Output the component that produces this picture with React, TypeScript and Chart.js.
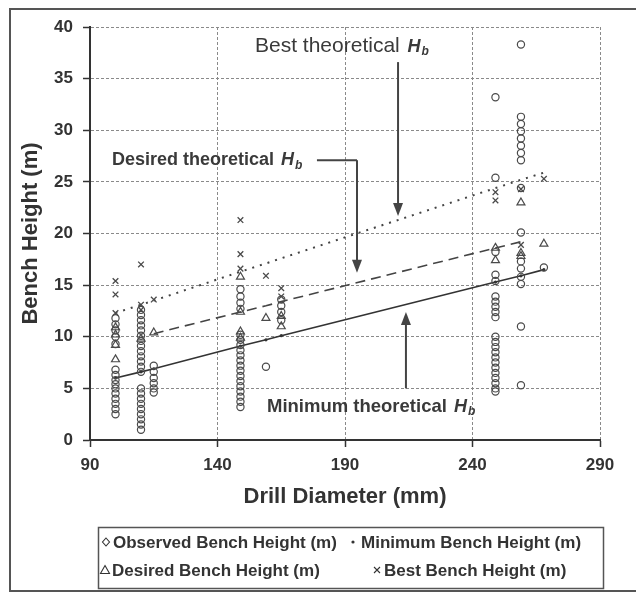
import { useEffect, useRef } from 'react';
import { Chart, registerables } from 'chart.js';

Chart.register(...registerables);

const FONT = "'Liberation Sans', Arial, Helvetica, sans-serif";
const INK = '#333333';

// Drill diameters (mm) of the measured columns
const columnDiameters = [100, 110, 115, 149, 159, 165, 249, 259, 268];

// Observed bench heights (m), one list per column above
const observedByColumn = [
  [11.8, 11.2, 10.6, 10.0, 9.3, 6.8, 6.3, 5.8, 5.4, 5.0, 4.5, 4.0, 3.5, 3.0, 2.5],
  [12.6, 12.1, 11.6, 11.1, 10.6, 10.1, 9.6, 9.1, 8.6, 8.1, 7.6, 7.1, 6.6, 5.0, 4.5, 4.0, 3.5, 3.0, 2.5, 2.0, 1.5, 1.0],
  [7.2, 6.6, 6.0, 5.5, 5.0, 4.6],
  [14.6, 13.9, 13.3, 12.7, 10.2, 9.7, 9.2, 8.7, 8.2, 7.7, 7.2, 6.7, 6.2, 5.7, 5.2, 4.7, 4.2, 3.7, 3.2],
  [7.1],
  [13.6, 13.0, 12.4, 11.6],
  [33.2, 25.4, 18.2, 16.0, 15.4, 13.9, 13.4, 12.9, 12.4, 11.9, 10.0, 9.5, 9.0, 8.5, 8.0, 7.5, 7.0, 6.5, 6.0, 5.5, 5.0, 4.7],
  [38.3, 31.3, 30.6, 29.9, 29.2, 28.5, 27.8, 27.1, 24.4, 20.1, 17.3, 16.6, 15.8, 15.1, 11.0, 5.3],
  [16.7],
];

// Desired bench heights (m), one list per column
const desiredByColumn = [
  [10.9, 10.2, 9.2, 7.8],
  [9.8],
  [10.4],
  [15.8, 12.4, 10.5, 9.9],
  [11.8],
  [12.0, 11.0],
  [18.6, 17.4],
  [23.0, 18.1, 17.8],
  [19.0],
];

// Best bench heights (m), one list per column
const bestByColumn = [
  [15.4, 14.1, 12.3],
  [17.0, 13.1, 12.6],
  [13.6],
  [21.3, 18.0, 16.6],
  [15.9],
  [14.7, 13.9],
  [24.0, 23.2],
  [24.3, 18.9],
  [25.3],
];

// Theoretical curves
const minimumTheory = [6.0, 6.6, 6.9, 9.1, 9.7, 10.1, 15.3, 15.9, 16.5];
const bestTheory = [12.3, 13.1, 13.5, 16.3, 17.1, 17.6, 24.4, 25.2, 25.9];
const desiredTheoryX = [115, 149, 159, 165, 249, 259];
const desiredTheory = [10.3, 12.4, 13.0, 13.4, 18.6, 19.2];

// Axis ticks
const xTicks = [90, 140, 190, 240, 290];
const yTicks = [0, 5, 10, 15, 20, 25, 30, 35, 40];

const legendLabels = [
  'Observed Bench Height (m)',
  'Minimum Bench Height (m)',
  'Desired Bench Height (m)',
  'Best Bench Height (m)',
];

const flatten = (cols: number[][]) =>
  cols.flatMap((ys, i) => ys.map((y) => ({ x: columnDiameters[i], y })));

function drawMarker(ctx: CanvasRenderingContext2D, kind: string, x: number, y: number) {
  ctx.save();
  ctx.strokeStyle = INK;
  ctx.fillStyle = INK;
  ctx.lineWidth = 1.1;
  ctx.beginPath();
  if (kind === 'diamond') {
    ctx.moveTo(x, y - 4); ctx.lineTo(x + 3.5, y); ctx.lineTo(x, y + 4); ctx.lineTo(x - 3.5, y); ctx.closePath();
    ctx.stroke();
  } else if (kind === 'dot') {
    ctx.arc(x, y, 1.6, 0, Math.PI * 2); ctx.fill();
  } else if (kind === 'triangle') {
    ctx.moveTo(x, y - 4.5); ctx.lineTo(x + 4.5, y + 3.5); ctx.lineTo(x - 4.5, y + 3.5); ctx.closePath();
    ctx.stroke();
  } else {
    ctx.moveTo(x - 3, y - 3); ctx.lineTo(x + 3, y + 3); ctx.moveTo(x + 3, y - 3); ctx.lineTo(x - 3, y + 3);
    ctx.stroke();
  }
  ctx.restore();
}

function drawHb(ctx: CanvasRenderingContext2D, x: number, y: number, size: number) {
  ctx.save();
  ctx.textBaseline = 'middle';
  ctx.textAlign = 'left';
  ctx.font = `italic bold ${size}px ${FONT}`;
  ctx.fillText('H', x, y);
  const w = ctx.measureText('H').width;
  ctx.font = `italic bold ${Math.round(size * 0.65)}px ${FONT}`;
  ctx.fillText('b', x + w + 1, y + size * 0.28);
  ctx.restore();
}

function arrow(ctx: CanvasRenderingContext2D, x: number, y1: number, y2: number) {
  const dir = y2 > y1 ? 1 : -1;
  ctx.save();
  ctx.strokeStyle = '#444';
  ctx.fillStyle = '#444';
  ctx.lineWidth = 2;
  ctx.beginPath();
  ctx.moveTo(x, y1);
  ctx.lineTo(x, y2 - dir * 10);
  ctx.stroke();
  ctx.beginPath();
  ctx.moveTo(x - 5, y2 - dir * 13);
  ctx.lineTo(x + 5, y2 - dir * 13);
  ctx.lineTo(x, y2);
  ctx.closePath();
  ctx.fill();
  ctx.restore();
}

const framePlugin = {
  id: 'frame',
  beforeDraw(chart: any) {
    const { ctx, width, height } = chart;
    ctx.save();
    ctx.fillStyle = '#ffffff';
    ctx.fillRect(0, 0, width, height);
    ctx.strokeStyle = '#555';
    ctx.lineWidth = 2;
    ctx.beginPath();
    ctx.moveTo(width + 2, 9);
    ctx.lineTo(10, 9);
    ctx.lineTo(10, 591);
    ctx.lineTo(width + 2, 591);
    ctx.stroke();
    ctx.restore();
  },
};

const annotationPlugin = {
  id: 'annotations',
  afterDatasetsDraw(chart: any) {
    const { ctx } = chart;
    const xs = chart.scales.x;
    const ys = chart.scales.y;
    const px = (v: number) => xs.getPixelForValue(v);
    const py = (v: number) => ys.getPixelForValue(v);
    ctx.save();
    ctx.fillStyle = '#3a3a3a';
    ctx.textBaseline = 'middle';
    ctx.textAlign = 'left';

    // Best theoretical
    ctx.font = `21px ${FONT}`;
    const t1 = 'Best theoretical ';
    ctx.fillText(t1, px(154.7), py(38.1));
    drawHb(ctx, px(154.7) + ctx.measureText(t1).width + 2, py(38.1), 18);
    arrow(ctx, px(210.8), py(36.6), py(21.7));

    // Desired theoretical
    ctx.font = `bold 18px ${FONT}`;
    const t2 = 'Desired theoretical ';
    ctx.fillText(t2, px(98.6), py(27.1));
    drawHb(ctx, px(98.6) + ctx.measureText(t2).width + 2, py(27.1), 18);
    ctx.strokeStyle = '#444';
    ctx.lineWidth = 2;
    ctx.beginPath();
    ctx.moveTo(px(179), py(27.1));
    ctx.lineTo(px(194.7), py(27.1));
    ctx.stroke();
    arrow(ctx, px(194.7), py(27.1), py(16.2));

    // Minimum theoretical
    ctx.font = `bold 18.5px ${FONT}`;
    const t3 = 'Minimum theoretical ';
    ctx.fillText(t3, px(159.4), py(3.2));
    drawHb(ctx, px(159.4) + ctx.measureText(t3).width + 2, py(3.2), 18);
    arrow(ctx, px(213.9), py(5.0), py(12.4));
    ctx.restore();
  },
};

const legendPlugin = {
  id: 'customLegend',
  afterDraw(chart: any) {
    const { ctx } = chart;
    ctx.save();
    ctx.strokeStyle = '#555';
    ctx.lineWidth = 1.5;
    ctx.strokeRect(98.5, 527.5, 505, 61);
    ctx.fillStyle = INK;
    ctx.font = `bold 17px ${FONT}`;
    ctx.textBaseline = 'middle';
    ctx.textAlign = 'left';
    const items = [
      { kind: 'diamond', mx: 106, tx: 113, y: 542 },
      { kind: 'dot', mx: 353, tx: 361, y: 542 },
      { kind: 'triangle', mx: 105, tx: 112, y: 570 },
      { kind: 'cross', mx: 377, tx: 384, y: 570 },
    ];
    items.forEach((it, i) => {
      drawMarker(ctx, it.kind, it.mx, it.y);
      ctx.fillText(legendLabels[i], it.tx, it.y + 1);
    });
    ctx.restore();
  },
};

export default function App() {
  const ref = useRef<HTMLCanvasElement>(null);
  useEffect(() => {
    if (!ref.current) return;
    const gridCommon = {
      color: '#8a8a8a',
      lineWidth: 1,
      tickColor: INK,
      tickLength: 7,
      tickWidth: 1.5,
    };
    const chart = new Chart(ref.current, {
      type: 'scatter',
      data: {
        datasets: [
          {
            label: legendLabels[0],
            data: flatten(observedByColumn),
            pointStyle: 'circle',
            pointRadius: 3.6,
            borderColor: '#4a4a4a',
            backgroundColor: 'rgba(255,255,255,0)',
            borderWidth: 1.2,
          },
          {
            label: legendLabels[2],
            data: flatten(desiredByColumn),
            pointStyle: 'triangle',
            pointRadius: 4.6,
            borderColor: '#4a4a4a',
            backgroundColor: 'rgba(255,255,255,0)',
            borderWidth: 1.2,
          },
          {
            label: legendLabels[3],
            data: flatten(bestByColumn),
            pointStyle: 'crossRot',
            pointRadius: 4,
            borderColor: '#4a4a4a',
            borderWidth: 1.3,
          },
          {
            label: legendLabels[1],
            data: columnDiameters.map((x, i) => ({ x, y: minimumTheory[i] })),
            showLine: true,
            borderColor: '#333',
            borderWidth: 1.6,
            pointRadius: 1.6,
            pointBackgroundColor: '#333',
            pointBorderWidth: 0,
            tension: 0,
          },
          {
            label: 'Desired theoretical',
            data: desiredTheoryX.map((x, i) => ({ x, y: desiredTheory[i] })),
            showLine: true,
            borderColor: '#444',
            borderWidth: 1.6,
            borderDash: [10, 6],
            pointRadius: 0,
            tension: 0,
          },
          {
            label: 'Best theoretical',
            data: columnDiameters.map((x, i) => ({ x, y: bestTheory[i] })),
            showLine: true,
            borderColor: '#444',
            borderWidth: 2,
            borderDash: [2, 6],
            pointRadius: 0,
            tension: 0,
          },
        ],
      },
      options: {
        responsive: false,
        animation: false,
        layout: { padding: { top: 27, right: 36, left: 0, bottom: 0 } },
        plugins: {
          legend: { display: false },
          tooltip: { enabled: false },
        },
        scales: {
          x: {
            type: 'linear',
            min: xTicks[0],
            max: xTicks[xTicks.length - 1],
            afterBuildTicks: (s: any) => { s.ticks = xTicks.map((v) => ({ value: v })); },
            afterFit: (s: any) => { s.height = 153; },
            ticks: {
              color: INK,
              padding: 8,
              font: { family: FONT, size: 17, weight: 'bold' },
              maxRotation: 0,
            },
            grid: gridCommon,
            border: { display: true, color: INK, width: 2, dash: [3, 2] },
            title: {
              display: true,
              text: 'Drill Diameter (mm)',
              color: INK,
              font: { family: FONT, size: 22, weight: 'bold' },
              padding: { top: 0, bottom: 83 },
            },
          },
          y: {
            type: 'linear',
            min: yTicks[0],
            max: yTicks[yTicks.length - 1],
            afterBuildTicks: (s: any) => { s.ticks = yTicks.map((v) => ({ value: v })); },
            afterFit: (s: any) => { s.width = 90; },
            ticks: {
              color: INK,
              padding: 10,
              font: { family: FONT, size: 17, weight: 'bold' },
            },
            grid: gridCommon,
            border: { display: true, color: INK, width: 2, dash: [3, 2] },
            title: {
              display: true,
              text: 'Bench Height (m)',
              color: INK,
              font: { family: FONT, size: 22, weight: 'bold' },
              padding: { top: 18, bottom: 0 },
            },
          },
        },
      },
      plugins: [framePlugin, annotationPlugin, legendPlugin],
    } as any);
    return () => chart.destroy();
  }, []);
  return (
    <div style={{ position: 'absolute', left: 0, top: 0, width: 636, height: 593 }}>
      <canvas ref={ref} width={636} height={593} style={{ display: 'block', width: 636, height: 593 }} />
    </div>
  );
}
